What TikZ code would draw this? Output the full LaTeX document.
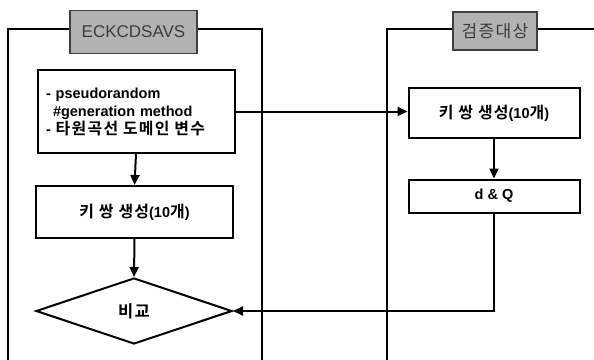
\documentclass[tikz,border=0pt]{standalone}
\usepackage{fontspec}
\setmainfont{Liberation Sans}
\newfontfamily\kr{Noto Sans CJK KR}[BoldFont={Noto Sans CJK KR Bold}, Scale=1.1, LetterSpace=8]
\usetikzlibrary{shapes.geometric,arrows.meta}
\definecolor{labfill}{RGB}{178,178,178}
\definecolor{labtext}{RGB}{60,60,60}
\tikzset{
  frame/.style={line width=2pt, draw=black},
  labelbox/.style={draw=black!75, line width=1.6pt, fill=labfill, text=labtext, inner sep=0pt, font=\fontsize{17}{20}\selectfont},
  procbox/.style={draw=black, line width=2pt, fill=white, inner sep=0pt, font=\bfseries\fontsize{14.5}{18}\selectfont},
  decbox/.style={diamond, draw=black, line width=2pt, fill=white, inner sep=0pt, font=\bfseries\fontsize{15}{18}\selectfont},
  flow/.style={line width=2pt, -{Triangle[length=10pt,width=9pt]}},
  plainline/.style={line width=2pt}
}
\begin{document}
\begin{tikzpicture}[x=1pt,y=-1pt]
\useasboundingbox (0,0) rectangle (594,359);
% frames
\draw[frame] (8,362) -- (8,29) -- (70,29);
\draw[frame] (197,29) -- (262,29) -- (262,362);
\draw[frame] (387,362) -- (387,29) -- (453,29);
\draw[frame] (537,29) -- (597,29);
% label boxes
\node[labelbox, minimum width=127pt, minimum height=43pt] (lab1) at (133.5,32) {ECKCDSAVS};
\node[labelbox, minimum width=84pt, minimum height=38pt, font=\fontsize{15.5}{18}\selectfont] (lab2) at (495,31) {\kr 검증대상};
% process nodes
\node[procbox, minimum width=197pt, minimum height=83pt, text width=180pt, align=left] (params) at (136,111.5)
  {- pseudorandom\\\hspace*{7pt}\#generation method\\- {\kr 타원곡선 도메인 변수}};
\node[procbox, minimum width=197pt, minimum height=52pt] (keyL) at (134.5,212) {{\kr 키 쌍 생성}(10{\kr 개})};
\node[decbox, minimum width=196pt, minimum height=66pt] (cmp) at (134,311) {\kr 비교};
\node[procbox, minimum width=171pt, minimum height=50pt] (keyR) at (494,113) {{\kr 키 쌍 생성}(10{\kr 개})};
\node[procbox, minimum width=171pt, minimum height=33pt] (dq) at (494,196) {d \& Q};
% connectors
\draw[flow] (params.south) -- (keyL.north);
\draw[flow] (keyL.south) -- (cmp.north);
\draw[flow] (params.east) -- (params.east -| keyR.west);
\draw[flow] (keyR.south) -- (dq.north);
\draw[flow] (dq.south) |- (cmp.east);
\end{tikzpicture}
\end{document}
